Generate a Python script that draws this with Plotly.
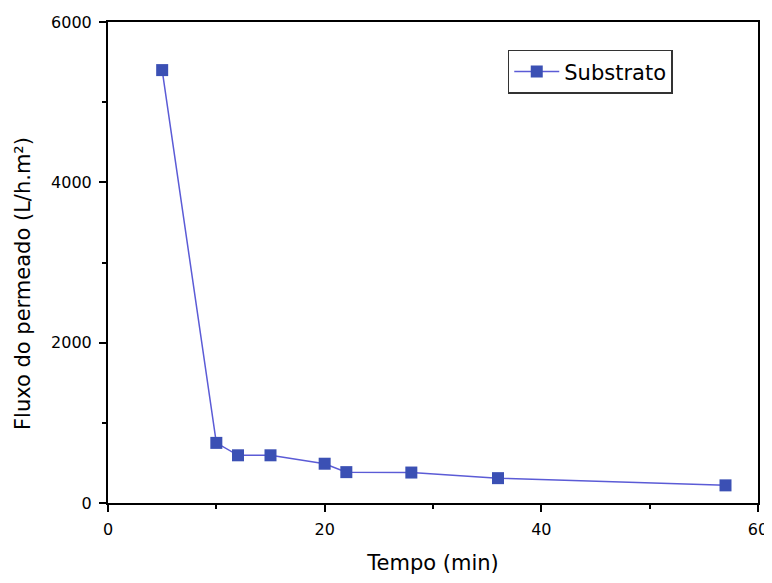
import plotly.graph_objects as go

tempo = [5, 10, 12, 15, 20, 22, 28, 36, 57]
fluxo = [5400, 750, 595, 595, 490, 385, 380, 310, 220]
serie_nome = "Substrato"
x_ticks = [0, 20, 40, 60]
y_ticks = [0, 2000, 4000, 6000]

FONT = "DejaVu Sans, Liberation Sans, Arial"

fig = go.Figure()
fig.add_trace(go.Scatter(
    x=tempo, y=fluxo, name=serie_nome, mode="lines+markers",
    line=dict(color="#5b5bd6", width=1.5),
    marker=dict(symbol="square", size=12, color="#3b50b4"),
))

axis_common = dict(
    showline=True, linecolor="black", linewidth=2, mirror=True,
    showgrid=False, zeroline=False, ticks="outside", ticklen=7, tickwidth=2,
    tickcolor="black", automargin=False, ticklabelstandoff=4,
    tickfont=dict(family=FONT, size=16, color="black"),
)

fig.update_layout(
    width=764, height=575,
    margin=dict(l=100, r=14, t=14, b=80),
    paper_bgcolor="white", plot_bgcolor="white",
    font=dict(family=FONT, color="black"),
    xaxis=dict(range=[0, 60], tickvals=x_ticks,
               minor=dict(dtick=10, ticks="outside", ticklen=4, tickwidth=2, tickcolor="black"),
               title=dict(text="Tempo (min)", font=dict(size=21, family=FONT), standoff=17),
               **axis_common),
    yaxis=dict(range=[0, 6000], tickvals=y_ticks,
               minor=dict(dtick=1000, ticks="outside", ticklen=4, tickwidth=2, tickcolor="black"),
               **axis_common),
    annotations=[dict(
        text="Fluxo do permeado (L/h.m²)", textangle=-90,
        xref="paper", yref="paper", x=-0.131, y=0.457,
        xanchor="center", yanchor="middle", showarrow=False,
        font=dict(size=21, family=FONT, color="black"),
    )],
    showlegend=True,
    legend=dict(x=0.615, y=0.942, xanchor="left", yanchor="top",
                bordercolor="#333", borderwidth=1.5, bgcolor="white",
                itemwidth=45,
                font=dict(size=21, family=FONT)),
)

fig.write_html("out.html")
